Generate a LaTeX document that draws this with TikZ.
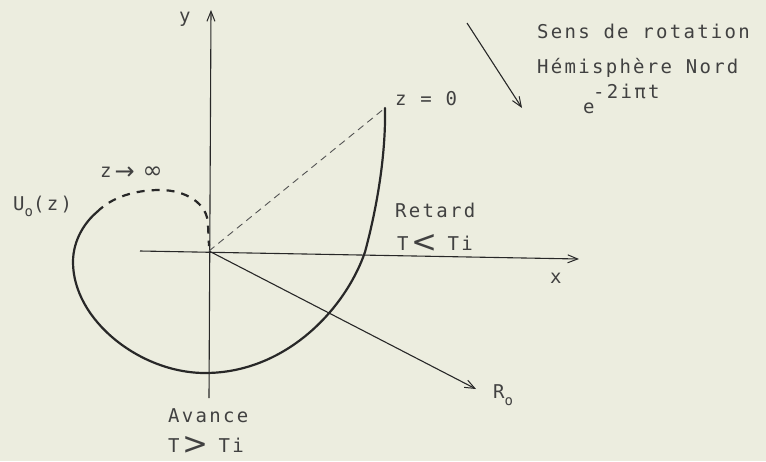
\documentclass[tikz,border=0pt]{standalone}
\usepackage{fontspec}
\newfontfamily\tw{DejaVu Sans Mono}[LetterSpace=12]
\newfontfamily\sym{DejaVu Sans}
\usetikzlibrary{arrows.meta}
\definecolor{bg}{RGB}{236,237,223}
\definecolor{ink}{RGB}{40,40,40}
\definecolor{txt}{RGB}{65,65,65}
\tikzset{
  lbl/.style={anchor=base west, inner sep=0pt, text=txt, font=\tw\fontsize{19}{21}\selectfont},
  axis/.style={draw=ink, line width=1.1pt},
  barb/.style={-{Straight Barb[length=10pt,width=8pt,line width=1pt]}},
  curve/.style={draw=ink, line width=2.2pt, line cap=round},
  curvedash/.style={draw=ink, line width=2.2pt, dash pattern=on 8pt off 7pt},
  thindash/.style={draw=ink!80, line width=0.9pt, dash pattern=on 7pt off 5pt}
}
\newcommand{\bigsym}[1]{\smash{\raisebox{-2pt}{\sym\fontsize{31}{31}\selectfont #1}}}
\begin{document}
\begin{tikzpicture}[x=1pt,y=-1pt]
\fill[bg] (0,0) rectangle (766,461);
\useasboundingbox (0,0) rectangle (766,461);
% coordinates
\coordinate (O) at (209,251);
\coordinate (ytop) at (211,10);
\coordinate (ybot) at (209,398);
\coordinate (xleft) at (140,251);
\coordinate (xright) at (579,259);
\coordinate (Rend) at (476,389);
\coordinate (Z0) at (385,108);
\coordinate (rotA) at (467,23);
\coordinate (rotB) at (522,108);
% axes
\draw[axis, barb] (ybot) -- (ytop);
\draw[axis, barb] (xleft) -- (xright);
\draw[axis, barb] (O) -- (Rend);
\draw[axis, barb] (rotA) -- (rotB);
% dashed radius
\draw[thindash] (O) -- (Z0);
% spiral
\draw[curve] (Z0) .. controls (386,160) and (375,215) .. (365,252)
  .. controls (345,310) and (285,373) .. (205,373)
  .. controls (140,373) and (73,320) .. (73,262)
  .. controls (73,240) and (85,222) .. (97,212);
\draw[curvedash] (97,212) .. controls (112,197) and (135,190) .. (160,190)
  .. controls (185,190) and (208,203) .. (208,225) -- (209,246);
% labels
\node[lbl] (ly) at (179,22) {y};
\node[lbl] (lx) at (550,283) {x};
\node[lbl] (lz0) at (395,105) {z = 0};
\node[lbl] (lsens) at (537,38) {Sens de rotation};
\node[lbl] (lhem) at (537,73) {Hémisphère Nord};
\node[lbl] (le) at (583,113) {e};
\node[lbl] (lexp) at (593,98) {-2iπt};
\node[lbl] (lret) at (395,217) {Retard};
\node[lbl] (lrt) at (397,250) {T\makebox[39pt][l]{\hspace{3pt}\bigsym{<}}Ti};
\node[lbl] (lav) at (168,422) {Avance};
\node[lbl] (lat) at (168,452) {T\makebox[39pt][l]{\hspace{3pt}\bigsym{>}}Ti};
\node[lbl] (lR) at (493,398) {R\raisebox{-7pt}{\fontsize{14}{14}\selectfont o}};
\node[lbl] (lU) at (13,210) {U\raisebox{-6pt}{\fontsize{14}{14}\selectfont o}(z)};
\node[lbl] (linf) at (100,177) {z\makebox[31pt][l]{\hspace{3pt}\raisebox{-2pt}{\sym\fontsize{24}{24}\selectfont→}}\raisebox{-1pt}{\sym\fontsize{24}{24}\selectfont∞}};
\end{tikzpicture}
\end{document}
